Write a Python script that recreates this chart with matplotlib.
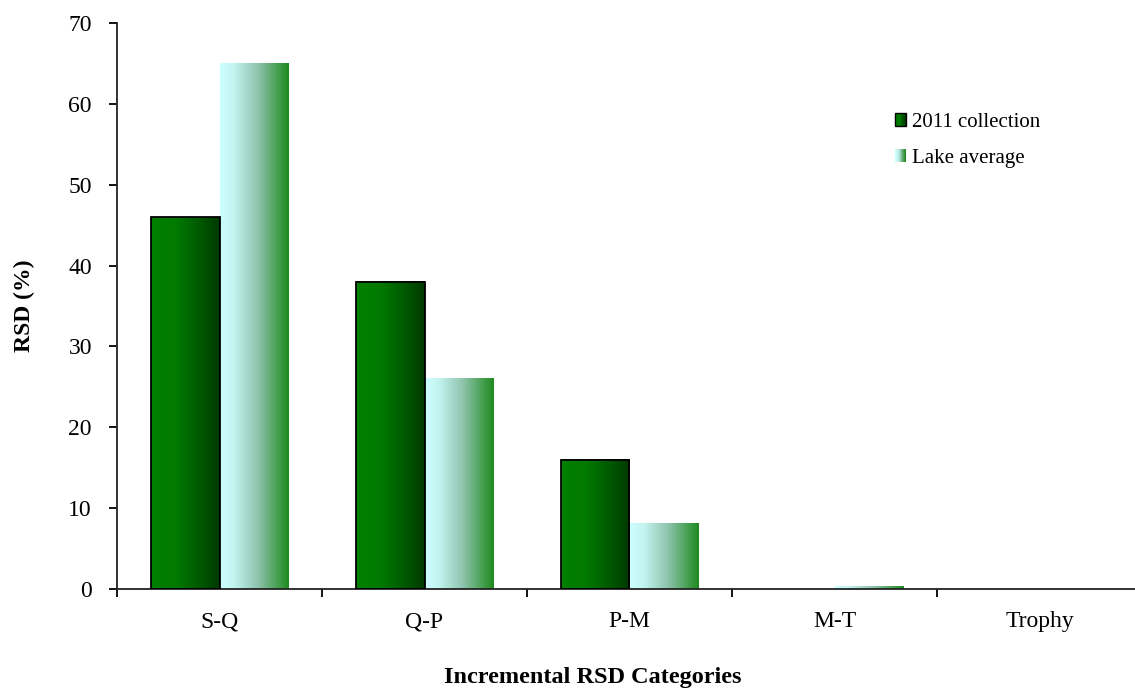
import numpy as np
import matplotlib
matplotlib.use("Agg")
import matplotlib.pyplot as plt
from matplotlib.patches import Rectangle
from matplotlib.legend_handler import HandlerBase
from matplotlib.colors import LinearSegmentedColormap

plt.rcParams['font.family'] = ['Liberation Serif', 'DejaVu Serif']

categories = ['S-Q', 'Q-P', 'P-M', 'M-T', 'Trophy']
collection_2011 = [46, 38, 16, 0, 0]
lake_average = [65, 26, 8.1, 0.3, 0]

# horizontal gradients for the two series
dark_cmap = LinearSegmentedColormap.from_list(
    'dark', [(0.0, '#008000'), (0.35, '#007a00'), (0.7, '#005a00'), (1.0, '#003800')])
lake_cmap = LinearSegmentedColormap.from_list(
    'lake', [(0.0, '#ccffff'), (0.2, '#c4f4f0'), (0.55, '#8fc4ad'), (1.0, '#1e8a1e')])

fig = plt.figure(figsize=(11.35, 6.9), dpi=100)
ax = fig.add_axes([117/1135, 101/690, 1025/1135, 566/690])

x = np.arange(len(categories))
w = 0.333
grad = np.linspace(0, 1, 256).reshape(1, -1)


def fill_gradient(bars, cmap):
    for b in bars:
        h = b.get_height()
        if h <= 0:
            continue
        x0 = b.get_x()
        ax.imshow(grad, cmap=cmap, aspect='auto', interpolation='bicubic',
                  extent=(x0, x0 + b.get_width(), 0, h), zorder=2)


bars1 = ax.bar(x - w/2, collection_2011, w, facecolor='none',
               edgecolor='black', linewidth=1.3, zorder=3)
bars2 = ax.bar(x + w/2, lake_average, w, facecolor='none',
               edgecolor='none', zorder=3)
for b, v in zip(bars1, collection_2011):
    if v == 0:
        b.set_visible(False)
fill_gradient(bars1, dark_cmap)
fill_gradient(bars2, lake_cmap)

ax.set_xlim(-0.5, len(categories) - 0.5)
ax.set_ylim(0, 70)
ax.set_yticks(np.arange(0, 71, 10))
ax.set_xticks(x)
ax.set_xticklabels(categories)
ax.set_xticks(np.arange(-0.5, len(categories), 1.0), minor=True)
ax.tick_params(axis='x', which='major', length=0, pad=16, labelsize=17)
ax.tick_params(axis='x', which='minor', length=6, width=1.3, direction='out')
ax.tick_params(axis='y', length=6, width=1.3, direction='out', pad=12, labelsize=17)

for s in ['top', 'right']:
    ax.spines[s].set_visible(False)
for s in ['left', 'bottom']:
    ax.spines[s].set_linewidth(1.3)
    ax.spines[s].set_color('#222222')

ax.set_ylabel('RSD (%)', fontsize=17, fontweight='bold')
ax.yaxis.set_label_coords(-0.08, 0.5)
ax.set_xlabel('Incremental RSD Categories', fontsize=17.5, fontweight='bold')
ax.xaxis.set_label_coords(0.464, -0.137)


class GradientSwatch(HandlerBase):
    def __init__(self, cmap, edge):
        super().__init__()
        self.cmap = cmap
        self.edge = edge

    def create_artists(self, legend, orig_handle, xdescent, ydescent,
                       width, height, fontsize, trans):
        n = 12
        artists = []
        for i in range(n):
            r = Rectangle((-xdescent + i*width/n, -ydescent), width/n + 0.3, height,
                          facecolor=self.cmap(i/(n-1)), edgecolor='none', transform=trans)
            artists.append(r)
        if self.edge:
            artists.append(Rectangle((-xdescent, -ydescent), width, height,
                                     facecolor='none', edgecolor='black', lw=1.0,
                                     transform=trans))
        return artists


h1 = Rectangle((0, 0), 1, 1)
h2 = Rectangle((0, 0), 1, 1)
fig.legend([h1, h2], ['2011 collection', 'Lake average'],
           handler_map={h1: GradientSwatch(dark_cmap, True),
                        h2: GradientSwatch(lake_cmap, False)},
           loc='upper left', bbox_to_anchor=(895/1135, 1 - 113/690), frameon=False,
           borderpad=0, borderaxespad=0,
           fontsize=15, handlelength=0.53, handleheight=0.55, handletextpad=0.3,
           labelspacing=0.82)

fig.savefig('out.png', dpi=100)
